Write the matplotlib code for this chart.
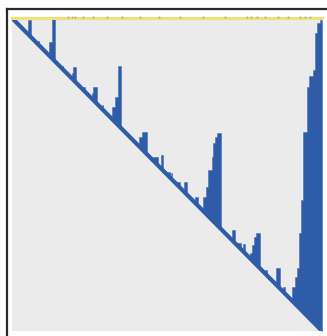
import matplotlib
matplotlib.use("Agg")
import matplotlib.pyplot as plt
from matplotlib.lines import Line2D
import numpy as np

# level run: start, end and top of each raised block
seg_start = [14, 16, 24, 28, 37, 40, 48, 60, 61, 70, 80, 81, 90,
             100, 103, 106, 125, 127, 130, 141, 149, 153, 159, 165, 172, 183,
             191, 194, 196, 200, 201, 203, 205, 220, 225, 231,
             238, 240, 242, 244, 253, 264, 271,
             280, 283, 285, 287, 289, 291, 295, 297, 301, 303, 305, 308]
seg_end = [16, 19, 27, 31, 40, 43, 51, 61, 64, 73, 81, 85, 91,
           103, 106, 109, 127, 130, 135, 146, 151, 158, 160, 168, 175, 186,
           194, 196, 200, 201, 203, 205, 209, 223, 229, 233,
           240, 242, 244, 248, 255, 268, 273,
           283, 285, 287, 289, 291, 295, 297, 301, 303, 305, 308, 310]
seg_top = [298, 311, 290, 284, 289, 312, 265, 258, 264, 244, 238, 244, 226,
           224, 234, 265, 186, 194, 199, 174, 176, 159, 158, 149, 149, 134,
           134, 144, 161, 174, 188, 194, 198, 101, 88, 87,
           78, 86, 94, 98, 61, 63, 44,
           44, 54, 63, 98, 131, 199, 244, 255, 261, 298, 308, 311]

# reference diagonal (start and end points)
diag_x = [0, 310]
diag_y = [313, 0]

# rug marks along the top band
rug_x = [56, 60, 63, 71, 81, 95, 110, 128, 147, 168, 191, 213, 235, 239,
         245, 253, 266, 276, 288, 293, 298]

blue = "#2f5ca9"

fig = plt.figure(figsize=(3.27, 3.36), dpi=100)
ax = fig.add_axes([12 / 327, 5 / 336, 310 / 327, 313 / 336])
ax.set_facecolor("#ebebeb")

# join touching blocks so each run is one polygon
groups = []
for x0, x1, top in zip(seg_start, seg_end, seg_top):
    if groups and groups[-1][-1][1] == x0:
        groups[-1].append((x0, x1, top))
    else:
        groups.append([(x0, x1, top)])

for g in groups:
    xs, tops = [], []
    for x0, x1, top in g:
        xs += [x0, x1]
        tops += [top, top]
    xs = np.array(xs, dtype=float)
    base = np.interp(xs, diag_x, diag_y)
    ax.fill_between(xs, base, tops, color=blue, lw=0.3, edgecolor=blue)

ax.plot(diag_x, diag_y, color=blue, lw=3, solid_capstyle="butt")

# yellow band with rug dots on top of the panel
ax.axhline(313, color="#f3df78", lw=2.2, clip_on=False)
ax.plot(rug_x, [314.5] * len(rug_x), ls="none", marker="s", ms=1.2,
        color="#a0a0a0", mew=0, clip_on=False)

ax.set_xlim(0, 310)
ax.set_ylim(0, 313)
ax.set_xticks([])
ax.set_yticks([])
for s in ax.spines.values():
    s.set_visible(False)

# outer frame, only top and left edges visible
fig.add_artist(Line2D([6.5 / 327, 6.5 / 327], [0, 1 - 8.5 / 336],
                      color="#2a2a2a", lw=1.6))
fig.add_artist(Line2D([6.5 / 327, 1], [1 - 8.5 / 336, 1 - 8.5 / 336],
                      color="#2a2a2a", lw=1.6))

fig.savefig("out.png", dpi=100)
